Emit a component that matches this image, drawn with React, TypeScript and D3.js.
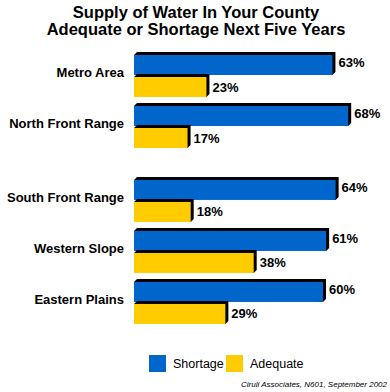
import React from "react";
import * as d3 from "d3";

const categories = ["Metro Area", "North Front Range", "South Front Range", "Western Slope", "Eastern Plains"];
const shortage = [63, 68, 64, 61, 60];
const adequate = [23, 17, 18, 38, 29];
const seriesNames = ["Shortage", "Adequate"];
const titleLines = ["Supply of Water In Your County", "Adequate or Shortage Next Five Years"];
const sourceNote = "Ciruli Associates, N601, September 2002";

const W = 390;
const H = 392;
const COLORS = ["#0066cc", "#ffcc00"];
const FONT = "'Liberation Sans', Arial, Helvetica, sans-serif";

export default function App() {
  const x = d3.scaleLinear().domain([0, 100]).range([134, 449]);
  // extra gap after the second group, as in the original layout
  const slot = (i: number) => i + (i >= 2 ? 0.45 : 0);
  const y = d3.scaleLinear().domain([0, 1]).range([55, 106]);
  const barH = 20;
  const innerGap = 2;
  const depth = 3;

  const bar = (x0: number, x1: number, top: number, fill: string, key: string) => {
    const w = x1 - x0;
    const pts = [
      [x0, top],
      [x0 + depth, top - depth],
      [x0 + w + depth, top - depth],
      [x0 + w + depth, top + barH - depth],
      [x0 + w, top + barH],
    ]
      .map((p) => p.join(","))
      .join(" ");
    return (
      <g key={key}>
        <polygon points={pts} fill="#000" />
        <rect x={x0} y={top} width={w} height={barH} fill={fill} />
      </g>
    );
  };

  return (
    <svg width={W} height={H} style={{ position: "absolute", left: 0, top: 0, background: "#fff" }} fontFamily={FONT}>
      <rect width={W} height={H} fill="#fff" />
      {titleLines.map((t, i) => (
        <text key={t} x={196} y={18 + i * 16.5} textAnchor="middle" fontSize={16.5} fontWeight="bold" fill="#000">
          {t}
        </text>
      ))}
      {categories.map((c, i) => {
        const top = y(slot(i));
        const top2 = top + barH + innerGap;
        const center = (top + top2 + barH) / 2;
        return (
          <g key={c}>
            <text x={124} y={center + 1} textAnchor="end" fontSize={13} fontWeight="bold" fill="#000">
              {c}
            </text>
            {bar(x(0), x(shortage[i]), top, COLORS[0], "s")}
            <text x={x(shortage[i]) + 6} y={top + barH / 2 + 2} fontSize={13} fontWeight="bold" fill="#000">
              {shortage[i]}%
            </text>
            {bar(x(0), x(adequate[i]), top2, COLORS[1], "a")}
            <text x={x(adequate[i]) + 6} y={top2 + barH / 2 + 4.5} fontSize={13} fontWeight="bold" fill="#000">
              {adequate[i]}%
            </text>
          </g>
        );
      })}
      {seriesNames.map((s, i) => (
        <g key={s} transform={`translate(${149 + i * 77},355)`}>
          <rect width={17} height={17} fill={COLORS[i]} />
          <text x={24} y={13} fontSize={12.5} fill="#000">
            {s}
          </text>
        </g>
      ))}
      <text x={387} y={387} textAnchor="end" fontSize={8} fontStyle="italic" fill="#000">
        {sourceNote}
      </text>
    </svg>
  );
}
